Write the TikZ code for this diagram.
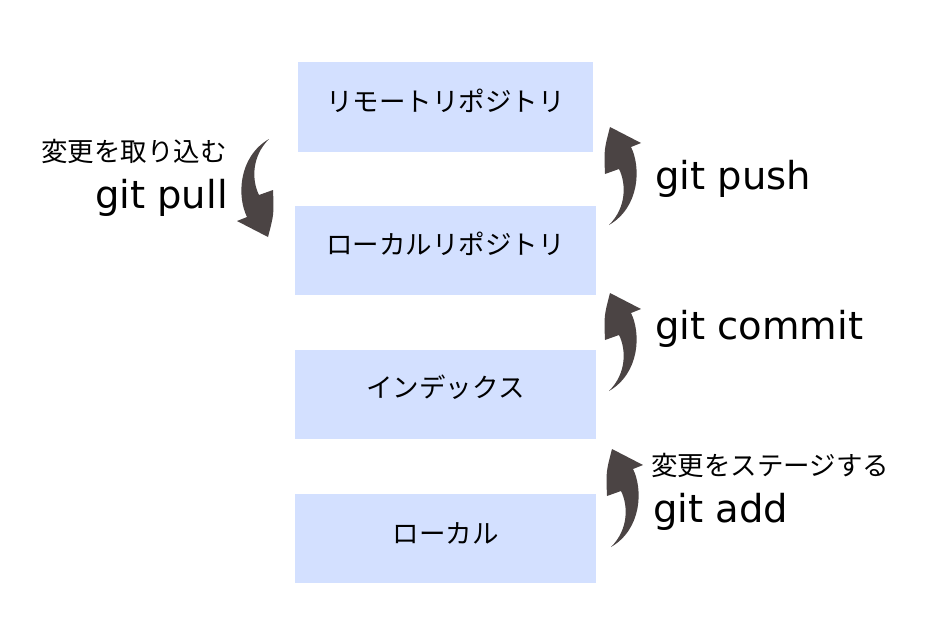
\documentclass[tikz,border=0pt]{standalone}
\usepackage{fontspec}
\setmainfont{DejaVu Sans}
\newfontfamily\jp{Noto Sans CJK JP}
\definecolor{boxcol}{HTML}{D3E0FF}
\definecolor{arrowcol}{HTML}{4B4444}
\begin{document}
\begin{tikzpicture}[x=1pt,y=-1pt,
  box/.style={fill=boxcol,draw=none,inner sep=0pt},
  jplabel/.style={font=\jp\fontsize{26.5}{31}\selectfont,inner sep=0pt},
  gitlabel/.style={font=\fontsize{38.5}{45}\selectfont,inner sep=0pt},
  brusharrow/.pic={
    \fill[arrowcol] (0,0) -- (31,16) -- (21,20)
      .. controls (31,40) and (30,80) .. (-1,98)
      .. controls (17,80) and (16,56) .. (9,42)
      -- (-5,47) .. controls (-6,23) .. (0,0) -- cycle;
  }]
\useasboundingbox (0,0) rectangle (949,616);
\fill[white] (0,0) rectangle (949,616);
% boxes
\node[box,minimum width=295pt,minimum height=90pt] (remote) at (445.5,107) {};
\node[box,minimum width=301pt,minimum height=89pt] (localrepo) at (445.5,250.5) {};
\node[box,minimum width=301pt,minimum height=89pt] (index) at (445.5,394.5) {};
\node[box,minimum width=301pt,minimum height=89pt] (local) at (445.5,538.5) {};
% box labels
\node[jplabel] (remoteL) at (445.5,101) {リモートリポジトリ};
\node[jplabel] (localrepoL) at (445.5,244) {ローカルリポジトリ};
\node[jplabel] (indexL) at (445.5,387) {インデックス};
\node[jplabel] (localL) at (445.5,533) {ローカル};
% arrows
\pic at (610,127) {brusharrow};
\pic at (610,293) {brusharrow};
\pic at (612,449) {brusharrow};
\pic[rotate=180] at (268,237) {brusharrow};
% command labels
\node[jplabel,anchor=east] (pullJ) at (227,151) {変更を取り込む};
\node[gitlabel,anchor=base east] (pull) at (228,208) {git pull};
\node[gitlabel,anchor=base west] (push) at (655,189) {git push};
\node[gitlabel,anchor=base west] (commit) at (655,339) {git commit};
\node[jplabel,anchor=west] (addJ) at (651,465) {変更をステージする};
\node[gitlabel,anchor=base west] (add) at (653,522) {git add};
\end{tikzpicture}
\end{document}
